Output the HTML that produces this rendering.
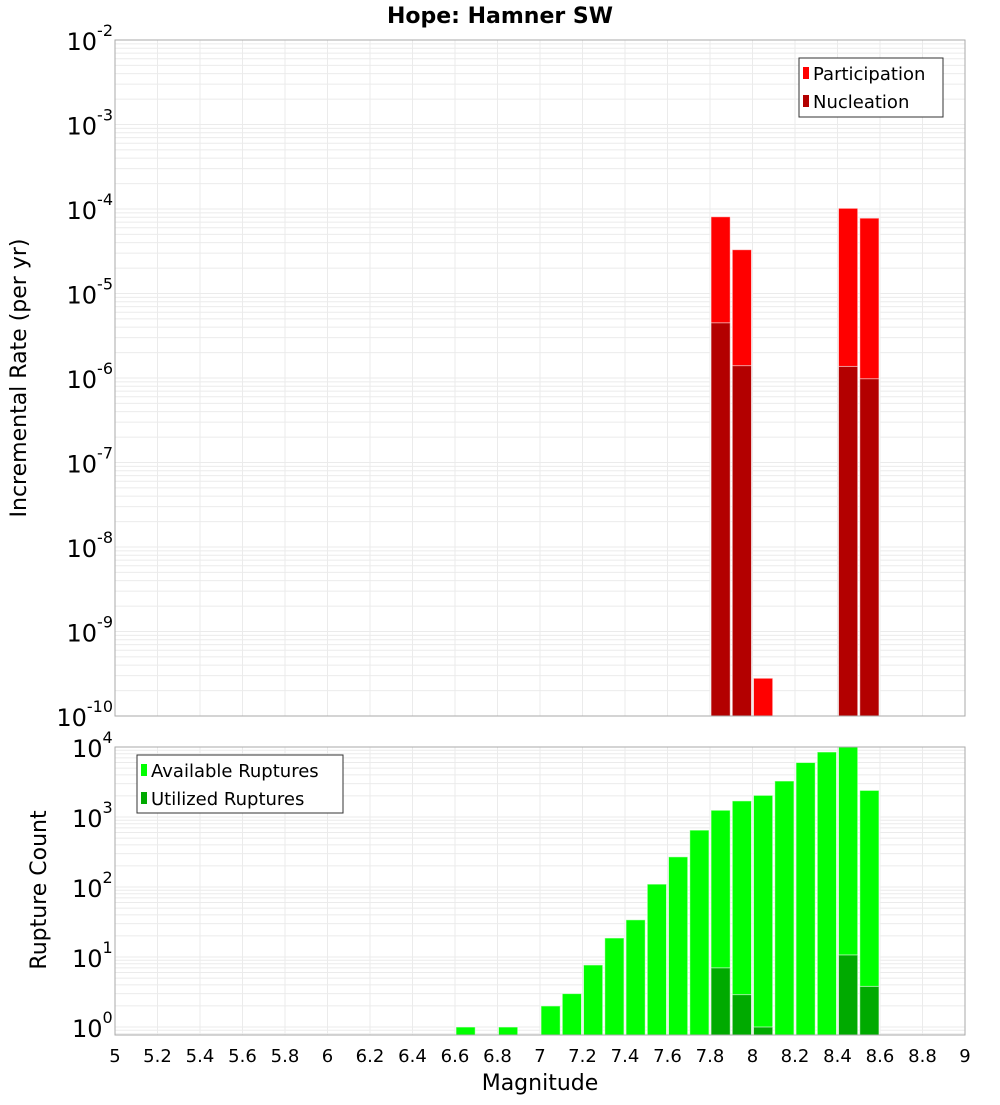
<!DOCTYPE html>
<html><head><meta charset="utf-8"><style>
body{margin:0;background:#fff;}
svg text{font-family:"DejaVu Sans","Liberation Sans",sans-serif;}
</style></head><body>
<svg id="chart" width="1000" height="1100" xmlns="http://www.w3.org/2000/svg">
<rect width="1000" height="1100" fill="#fff"/>
<text x="500" y="23" text-anchor="middle" font-size="22" font-weight="bold">Hope: Hamner SW</text>
<text transform="translate(26,378) rotate(-90)" text-anchor="middle" font-size="22">Incremental Rate (per yr)</text>
<text transform="translate(46,890) rotate(-90)" text-anchor="middle" font-size="22">Rupture Count</text>
<text x="540" y="1090" text-anchor="middle" font-size="22">Magnitude</text>
<g id="g"></g>
</svg>
<script>
const magBins=[7.8,7.9,8.0,8.4,8.5];
const participation=[8.1e-5,3.3e-5,2.8e-10,1.02e-4,7.8e-5];
const nucleation=[4.5e-6,1.4e-6,0,1.37e-6,9.8e-7];
const countBins=[6.6,6.8,7.0,7.1,7.2,7.3,7.4,7.5,7.6,7.7,7.8,7.9,8.0,8.1,8.2,8.3,8.4,8.5];
const available=[1,1,2,3,7.7,18.7,34,110,270,650,1250,1700,2040,3270,6000,8500,10000,2400];
const utilBins=[7.8,7.9,8.0,8.4,8.5];
const utilized=[7,2.9,1,10.7,3.8];
const xTicks=[5,5.2,5.4,5.6,5.8,6,6.2,6.4,6.6,6.8,7,7.2,7.4,7.6,7.8,8,8.2,8.4,8.6,8.8,9];
const topExps=[-2,-3,-4,-5,-6,-7,-8,-9,-10];
const botExps=[4,3,2,1,0];

const NS='http://www.w3.org/2000/svg';
const g=document.getElementById('g');
function mk(tag,attrs,parent){const e=document.createElementNS(NS,tag);for(const k in attrs)e.setAttribute(k,attrs[k]);(parent||g).appendChild(e);return e;}
const X0=115,X1=965;
const x=m=>X0+(m-5)/4*(X1-X0);
const T0=40,T1=716;
const yTop=v=>T0+(-2-Math.log10(v))/8*(T1-T0);
const B0=747,B1=1035,BPD=70,Bzero=1027;
const yBot=v=>Bzero-BPD*Math.log10(v);

function grid(top,bot,yf,emin,emax){
  for(const t of xTicks){const l=mk('line',{x1:x(t),x2:x(t),y1:top,y2:bot,stroke:'#ebebeb','stroke-width':1});
  
  }
  for(let e=emin;e<=emax;e++)for(let k=1;k<10;k++){const y=yf(k*Math.pow(10,e));if(y<top||y>bot)continue;
    const l=mk('line',{x1:X0,x2:X1,y1:y,y2:y,stroke:'#ebebeb','stroke-width':1});
    
    }
}
grid(T0,T1,yTop,-10,-3);
grid(B0,B1,yBot,-1,4);

function bar(m,v,yf,base,color,name){
  const y=yf(v);const r=mk('rect',{x:x(m)+1,y:y,width:x(m+0.1)-x(m)-2,height:base-y,fill:color,stroke:'#fff','stroke-opacity':0.6,'stroke-width':1});
  
  
}
magBins.forEach((m,i)=>bar(m,participation[i],yTop,T1,'#ff0000','participation-bar'));
magBins.forEach((m,i)=>{if(nucleation[i]>0)bar(m,nucleation[i],yTop,T1,'#b30000','nucleation-bar');});
countBins.forEach((m,i)=>bar(m,available[i],yBot,B1,'#00ff00','available-bar'));
utilBins.forEach((m,i)=>bar(m,utilized[i],yBot,B1,'#00aa00','utilized-bar'));

// frames
const f1=mk('rect',{x:X0,y:T0,width:X1-X0,height:T1-T0,fill:'none',stroke:'#aaa','stroke-width':1});


const f2=mk('rect',{x:X0,y:B0,width:X1-X0,height:B1-B0,fill:'none',stroke:'#aaa','stroke-width':1});



// x tick labels
for(const t of xTicks){const tx=mk('text',{x:x(t),y:1062,'text-anchor':'middle','font-size':18});tx.textContent=String(t);

}

function ylab(e,y,name){
  const tx=mk('text',{x:107,y:y+10,'text-anchor':'end','font-size':24});
  
  
  const s=String(e);
  tx.textContent='10';
  const sp=document.createElementNS(NS,'tspan');sp.setAttribute('dy','-14');sp.setAttribute('font-size','16');sp.textContent=s;
  tx.appendChild(sp);
  // right-align: measure after append
  tx.setAttribute('text-anchor','start');
  const w=tx.getComputedTextLength?tx.getComputedTextLength():40;
  tx.setAttribute('x',String(Math.min(72,115-w-2)));
}
topExps.forEach(e=>ylab(e,yTop(Math.pow(10,e)),'top-y-tick-label'));
botExps.forEach(e=>ylab(e,yBot(Math.pow(10,e)),'bottom-y-tick-label'));

function legend(x0,y0,w,h,items,name){
  const lg=mk('g',{});
  
  
  mk('rect',{x:x0,y:y0,width:w,height:h,fill:'#fff',stroke:'#333','stroke-width':1},lg);
  items.forEach((it,i)=>{
    const yy=y0+15+i*28;
    mk('rect',{x:x0+4,y:yy-6,width:6,height:12,fill:it[1]},lg);
    const tx=mk('text',{x:x0+14,y:yy+7,'font-size':18},lg);tx.textContent=it[0];
    
    
  });
}
legend(799,58,144,59,[['Participation','#ff0000'],['Nucleation','#b30000']],'top-legend');
legend(137,755,206,58,[['Available Ruptures','#00ff00'],['Utilized Ruptures','#00aa00']],'bottom-legend');
</script>
</body></html>
